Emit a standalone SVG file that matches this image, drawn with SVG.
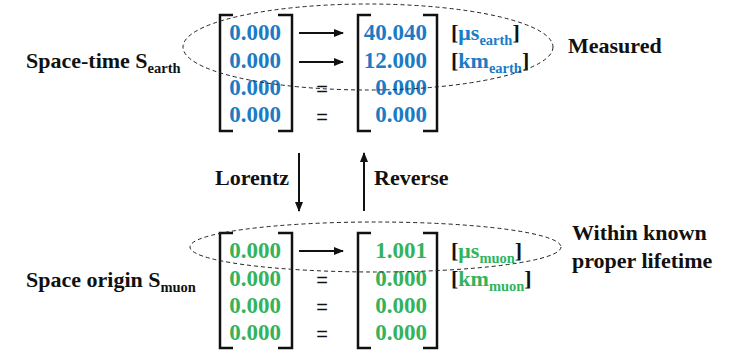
<svg xmlns="http://www.w3.org/2000/svg" width="729" height="352" viewBox="0 0 729 352">
<defs>
<style>
text{font-family:"Liberation Serif","DejaVu Serif",serif;font-weight:bold}
.lbl{font-size:22px;fill:#111}
.sub{font-size:14.5px}
.num{font-size:23px;text-anchor:end}
.b{fill:#1b7bc4}
.g{fill:#33b35c}
.eq{font-family:"Liberation Sans",sans-serif;font-weight:normal;font-size:20px;fill:#111;text-anchor:middle}
.br{fill:none;stroke:#111;stroke-width:2.5}
.ar{stroke:#111;stroke-width:2;fill:none}
.el{fill:none;stroke:#222;stroke-width:1;stroke-dasharray:4 3}
</style>
<marker id="ah" viewBox="0 0 10 10" refX="9" refY="5" markerWidth="5" markerHeight="5" orient="auto" markerUnits="strokeWidth">
<path d="M0,1 L10,5 L0,9 z" fill="#111"/>
</marker>
</defs>
<rect width="729" height="352" fill="#fff"/>

<g id="earth-label"><text class="lbl" x="26" y="68">Space-time S<tspan class="sub" dy="5">earth</tspan></text></g>
<g id="muon-label"><text class="lbl" x="26" y="287">Space origin S<tspan class="sub" dy="5">muon</tspan></text></g>

<g id="earth-origin">
<path class="br" d="M233,15 H220 V131 H233 M278,15 H292 V131 H278"/>
<text class="num b" x="281" y="40">0.000</text>
<text class="num b" x="281" y="68">0.000</text>
<text class="num b" x="281" y="95">0.000</text>
<text class="num b" x="281" y="122">0.000</text>
</g>

<g id="earth-measured">
<path class="br" d="M371,15 H358 V131 H371 M423,15 H437 V131 H423"/>
<text class="num b" x="427" y="40">40.040</text>
<text class="num b" x="427" y="68">12.000</text>
<text class="num b" x="427" y="95">0.000</text>
<text class="num b" x="427" y="122">0.000</text>
<text class="lbl" x="451" y="40">[<tspan class="b">μs</tspan><tspan class="sub b" dy="5">earth</tspan><tspan dy="-5">]</tspan></text>
<text class="lbl" x="451" y="68">[<tspan class="b">km</tspan><tspan class="sub b" dy="5">earth</tspan><tspan dy="-5">]</tspan></text>
</g>

<g id="muon-origin">
<path class="br" d="M233,233 H220 V348 H233 M278,233 H292 V348 H278"/>
<text class="num g" x="281" y="258">0.000</text>
<text class="num g" x="281" y="286">0.000</text>
<text class="num g" x="281" y="313">0.000</text>
<text class="num g" x="281" y="340">0.000</text>
</g>

<g id="muon-proper">
<path class="br" d="M371,233 H358 V348 H371 M423,233 H437 V348 H423"/>
<text class="num g" x="427" y="258">1.001</text>
<text class="num g" x="427" y="286">0.000</text>
<text class="num g" x="427" y="313">0.000</text>
<text class="num g" x="427" y="340">0.000</text>
<text class="lbl" x="451" y="258">[<tspan class="g">μs</tspan><tspan class="sub g" dy="5">muon</tspan><tspan dy="-5">]</tspan></text>
<text class="lbl" x="451" y="286">[<tspan class="g">km</tspan><tspan class="sub g" dy="5">muon</tspan><tspan dy="-5">]</tspan></text>
</g>

<g id="measured-note">
<ellipse class="el" cx="368" cy="47" rx="185" ry="43"/>
<text class="lbl" x="568" y="53">Measured</text>
</g>
<g id="lifetime-note">
<ellipse class="el" cx="375.5" cy="247" rx="185.5" ry="25"/>
<text class="lbl" x="572" y="240">Within known</text>
<text class="lbl" x="572" y="268">proper lifetime</text>
</g>

<g id="connectors">
<line class="ar" x1="299" y1="33" x2="343" y2="33" marker-end="url(#ah)"/>
<line class="ar" x1="299" y1="62" x2="343" y2="62" marker-end="url(#ah)"/>
<text class="eq" x="322" y="96">=</text>
<text class="eq" x="322" y="124">=</text>
<line class="ar" x1="299" y1="251" x2="343" y2="251" marker-end="url(#ah)"/>
<text class="eq" x="322" y="287">=</text>
<text class="eq" x="322" y="314">=</text>
<text class="eq" x="322" y="341">=</text>
<line class="ar" x1="299" y1="153" x2="299" y2="211" marker-end="url(#ah)"/>
<text class="lbl" x="215" y="185">Lorentz</text>
<line class="ar" x1="364" y1="211" x2="364" y2="153" marker-end="url(#ah)"/>
<text class="lbl" x="374" y="185">Reverse</text>
</g>
</svg>
